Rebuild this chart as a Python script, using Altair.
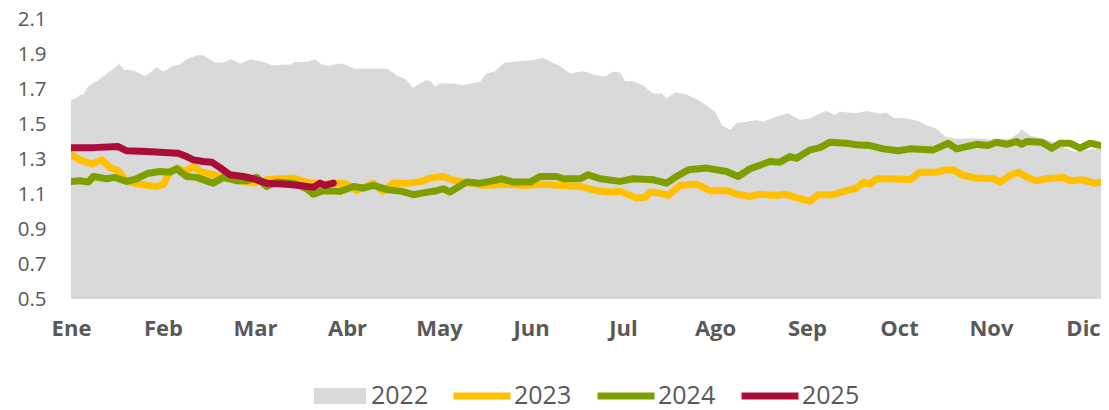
import altair as alt
import pandas as pd

# ---------------- data ----------------
meses = ["Ene", "Feb", "Mar", "Abr", "May", "Jun", "Jul", "Ago", "Sep", "Oct", "Nov", "Dic"]
paso_etiqueta = 23          # trading-day index between month labels
dia_max = 257.5

series = ["2022", "2023", "2024", "2025"]
colores = ["#d9d9d9", "#ffc000", "#7f9f00", "#ab0d3a"]

dias_2022 = [0, 1, 2.25, 3.1, 4.25, 6.4, 8.5, 10.2, 10.75, 12, 13.25, 14.75, 16.75, 18.5, 20.2, 21.4,
             23, 25.5, 27.25, 29.25, 31.4, 33, 36, 38, 40.2, 42.25, 44.75, 47.25, 50.5, 54.75, 56,
             58.9, 61, 62.7, 64.25, 66.75, 68, 71, 73.9, 77.25, 79.25, 81.4, 83.9, 85.5, 87.25, 88.9,
             90, 91, 92.25, 95.5, 98, 102.25, 103.9, 106, 108.5, 112.25, 115.5, 118, 120.2, 122.25,
             124.75, 128, 131.4, 133.5, 135.5, 137.25, 138.5, 140.5, 143, 145.5, 147.7, 148.9, 151,
             153.9, 157.25, 161, 162.7, 164.75, 166.4, 168.9, 171.4, 173, 176.4, 179.25, 182.25,
             184.75, 187.25, 188.9, 191, 192.25, 196.4, 198.9, 202.25, 203.9, 205.5, 208.9, 211.75,
             213.9, 216, 218.5, 221.4, 225.5, 229.75, 234.75, 236.75, 237.7, 239.75, 244.75, 248.5,
             251, 254.75, 257.5]
valores_2022 = [1.637, 1.644, 1.666, 1.669, 1.713, 1.745, 1.779, 1.808, 1.817, 1.845, 1.808, 1.808,
                1.794, 1.774, 1.802, 1.825, 1.798, 1.832, 1.840, 1.874, 1.893, 1.893, 1.851, 1.851,
                1.870, 1.845, 1.870, 1.859, 1.836, 1.840, 1.855, 1.855, 1.870, 1.840, 1.832, 1.845,
                1.845, 1.814, 1.817, 1.817, 1.814, 1.779, 1.751, 1.707, 1.732, 1.751, 1.741, 1.713,
                1.732, 1.732, 1.722, 1.741, 1.788, 1.802, 1.851, 1.859, 1.865, 1.878, 1.851, 1.832,
                1.788, 1.802, 1.779, 1.770, 1.798, 1.794, 1.745, 1.745, 1.722, 1.675, 1.675, 1.646,
                1.680, 1.669, 1.631, 1.570, 1.495, 1.466, 1.504, 1.513, 1.523, 1.513, 1.542, 1.561,
                1.523, 1.532, 1.561, 1.574, 1.552, 1.570, 1.561, 1.574, 1.558, 1.565, 1.536, 1.532,
                1.517, 1.491, 1.479, 1.428, 1.415, 1.418, 1.411, 1.417, 1.445, 1.468, 1.434, 1.405,
                1.365, 1.343, 1.354, 1.360]

dias_2023 = [0, 2.25, 5.2, 7.7, 9.75, 11.8, 13.9, 17.25, 21.4, 23.1, 24.75, 26.75, 28.5, 30.6, 32.7,
             35.6, 38.9, 42.25, 45.6, 48.9, 52.25, 55.6, 58.9, 62.25, 67.25, 69, 71.4, 75.5, 78, 80.5,
             84.75, 87.7, 89.75, 93, 96, 99.75, 103, 106.4, 109.75, 113, 118, 123, 127.25, 131.4,
             134.75, 137.25, 141.4, 143.5, 144.75, 147.25, 149.3, 152.25, 156.4, 159.75, 164.3, 166.4,
             169.75, 172.25, 175.6, 178.5, 182.25, 184.75, 186.8, 190.6, 193.9, 196.4, 198.1, 199.75,
             201.4, 205.6, 209.75, 212.25, 216.4, 218.9, 220.6, 223.1, 226.4, 230.6, 232.25, 234.75,
             236.8, 238.9, 241.4, 243.9, 248.1, 249.75, 253.1, 255.6, 257.5]
valores_2023 = [1.324, 1.295, 1.270, 1.295, 1.251, 1.233, 1.172, 1.156, 1.143, 1.153, 1.229, 1.248,
                1.229, 1.257, 1.225, 1.210, 1.191, 1.176, 1.162, 1.181, 1.187, 1.191, 1.168, 1.156,
                1.162, 1.156, 1.119, 1.162, 1.115, 1.162, 1.162, 1.172, 1.191, 1.200, 1.176, 1.162,
                1.149, 1.153, 1.156, 1.149, 1.156, 1.149, 1.143, 1.119, 1.111, 1.115, 1.077, 1.081,
                1.111, 1.105, 1.092, 1.149, 1.156, 1.119, 1.119, 1.099, 1.086, 1.099, 1.092, 1.099,
                1.073, 1.058, 1.096, 1.096, 1.119, 1.134, 1.168, 1.156, 1.187, 1.187, 1.181, 1.225,
                1.225, 1.238, 1.238, 1.206, 1.191, 1.187, 1.168, 1.206, 1.225, 1.197, 1.176, 1.187,
                1.195, 1.176, 1.181, 1.162, 1.168]

dias_2024 = [0, 2.25, 4.3, 5.6, 8.9, 11, 13.9, 16.4, 19.3, 22.25, 24.75, 26.4, 28.9, 31.4, 34.75,
             35.6, 38.1, 41.4, 43.9, 46.4, 48.9, 51.4, 55.6, 58.9, 60.6, 63.1, 67.25, 70.6, 73.1,
             75.6, 79.3, 82.7, 85.6, 87.7, 91.4, 93.1, 94.75, 98.9, 102.25, 104.75, 107.7, 110.6,
             114.75, 117.25, 121.4, 123.1, 127.25, 129.3, 132.25, 137.25, 140.6, 145.6, 148.9, 151.4,
             154.3, 158.9, 163.9, 166.8, 169.75, 174.75, 177.25, 179.75, 181.4, 184.75, 187.25,
             189.75, 193.9, 196.4, 199.75, 203.1, 206.8, 209.75, 215.6, 219.3, 221.4, 226.4, 229.3,
             231.4, 233.9, 236.4, 237.7, 238.9, 242.7, 245.2, 247.25, 249.75, 252.25, 254.75, 257.5]
valores_2024 = [1.172, 1.176, 1.168, 1.200, 1.187, 1.195, 1.172, 1.187, 1.219, 1.229, 1.225, 1.244,
                1.200, 1.195, 1.168, 1.162, 1.195, 1.176, 1.176, 1.195, 1.143, 1.168, 1.162, 1.130,
                1.099, 1.119, 1.115, 1.143, 1.134, 1.149, 1.124, 1.115, 1.096, 1.105, 1.119, 1.130,
                1.111, 1.168, 1.162, 1.172, 1.187, 1.168, 1.168, 1.200, 1.200, 1.187, 1.187, 1.210,
                1.187, 1.172, 1.187, 1.181, 1.162, 1.200, 1.238, 1.248, 1.229, 1.200, 1.244, 1.286,
                1.282, 1.314, 1.304, 1.352, 1.365, 1.396, 1.390, 1.381, 1.377, 1.358, 1.347, 1.358,
                1.352, 1.390, 1.358, 1.384, 1.377, 1.396, 1.384, 1.400, 1.384, 1.400, 1.396, 1.362,
                1.390, 1.390, 1.362, 1.390, 1.377]

dias_2025 = [0, 5.6, 11.8, 13.9, 18.9, 22.25, 26.8, 28.9, 30.6, 33.1, 35.2, 37.25, 39.75, 43.1,
             45.6, 48.9, 53.9, 57.25, 60.6, 62.25, 63.5, 65.6]
valores_2025 = [1.365, 1.365, 1.371, 1.347, 1.343, 1.339, 1.333, 1.314, 1.295, 1.286, 1.282, 1.251,
                1.210, 1.200, 1.187, 1.162, 1.156, 1.149, 1.138, 1.162, 1.149, 1.162]

# ---------------- tables ----------------
df_area = pd.DataFrame({"dia": dias_2022, "valor": valores_2022, "serie": "2022"})
df_lineas = pd.concat([
    pd.DataFrame({"dia": dias_2023, "valor": valores_2023, "serie": "2023"}),
    pd.DataFrame({"dia": dias_2024, "valor": valores_2024, "serie": "2024"}),
    pd.DataFrame({"dia": dias_2025, "valor": valores_2025, "serie": "2025"}),
])

FONT = "Open Sans"
GRIS = "#595959"

etiquetas = "[" + ",".join(f"'{m}'" for m in meses) + "][round(datum.value / %d)]" % paso_etiqueta

x_enc = alt.X(
    "dia:Q",
    scale=alt.Scale(domain=[0, dia_max], nice=False, zero=False),
    axis=alt.Axis(
        values=[i * paso_etiqueta for i in range(len(meses))],
        labelExpr=etiquetas,
        title=None, domain=False, ticks=False, grid=False,
        labelFlush=False, labelOverlap=False,
        labelFont=FONT, labelFontSize=22, labelFontWeight="bold", labelColor=GRIS,
        labelPadding=19,
    ),
)
y_enc = alt.Y(
    "valor:Q",
    scale=alt.Scale(domain=[0.5, 2.1], nice=False, zero=False),
    axis=alt.Axis(
        values=[0.5, 0.7, 0.9, 1.1, 1.3, 1.5, 1.7, 1.9, 2.1],
        format=".1f",
        title=None, domain=False, ticks=False, grid=False,
        labelFont=FONT, labelFontSize=20.5, labelColor=GRIS, labelPadding=25,
    ),
)

area = alt.Chart(df_area).mark_area(clip=True).encode(
    x=x_enc,
    y=y_enc,
    y2=alt.datum(0.5),
    fill=alt.Fill(
        "serie:N",
        scale=alt.Scale(domain=series[:1], range=colores[:1]),
        legend=alt.Legend(
            title=None, orient="none", legendX=243, legendY=351, direction="horizontal",
            symbolType="M-1,-0.31H1V0.31H-1Z", symbolSize=2704, symbolStrokeWidth=0,
            labelFont=FONT, labelFontSize=25, labelColor=GRIS, labelOffset=5, padding=0,
        ),
    ),
)

lineas = alt.Chart(df_lineas).mark_line(
    strokeWidth=7, strokeCap="round", strokeJoin="round", clip=True
).encode(
    x=x_enc,
    y=y_enc,
    stroke=alt.Stroke(
        "serie:N",
        scale=alt.Scale(domain=series[1:], range=colores[1:]),
        legend=alt.Legend(
            title=None, orient="none", legendX=379, legendY=345, direction="horizontal",
            symbolType="stroke", symbolSize=3249, symbolStrokeWidth=7,
            labelFont=FONT, labelFontSize=25, labelColor=GRIS, labelOffset=0,
            columnPadding=11, padding=0,
        ),
    ),
)

chart = alt.layer(area, lineas).resolve_scale(fill="independent", stroke="independent").properties(
    width=1030,
    height=280,
    autosize=alt.AutoSizeParams(type="none"),
    padding={"left": 63, "top": 11, "right": 0, "bottom": 111},
    background="white",
).configure_view(stroke=None)

chart.save("out.html", embed_options={"renderer": "svg", "actions": False})
